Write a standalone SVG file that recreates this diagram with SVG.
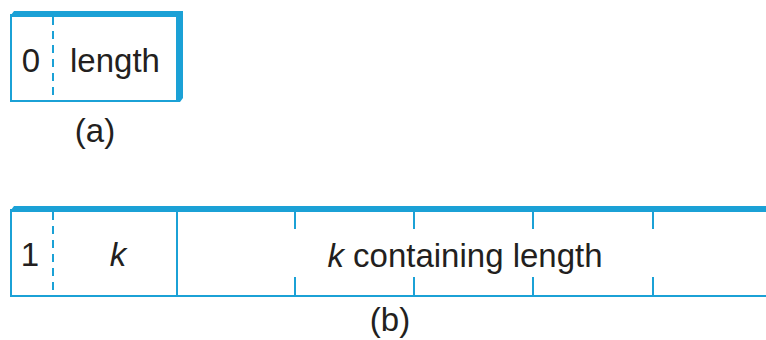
<svg xmlns="http://www.w3.org/2000/svg" width="766" height="340" viewBox="0 0 766 340">
<style>
.ln{stroke:#1ba1d6;stroke-width:2;fill:none}
.dash{stroke:#1ba1d6;stroke-width:2;stroke-dasharray:8,6;fill:none}
.bar{fill:#1ba1d6;stroke:none}
.t{font-family:"Liberation Sans",Arial,sans-serif;font-size:33px;fill:#231f20;text-anchor:middle}
.i{font-style:italic}
</style>
<rect width="766" height="340" fill="#ffffff"/>
<g id="nodeA">
<rect class="ln" x="11" y="15" width="166" height="86"/>
<polygon class="bar" points="11,17 11,15 14,11 183,11 183,17"/>
<polygon class="bar" points="177,11 183,11 183,98 180,102 177,102"/>
<line class="dash" x1="53" y1="17" x2="53" y2="101"/>
<text class="t" x="31" y="72">0</text>
<text class="t" x="115" y="72">length</text>
<text class="t" x="95" y="142">(a)</text>
</g>
<g id="nodeB">
<polyline class="ln" points="11,209 11,296 766,296"/>
<polygon class="bar" points="11,212 11,210 14,206 766,206 766,212"/>
<line class="dash" x1="53" y1="212" x2="53" y2="296"/>
<line class="ln" x1="177" y1="212" x2="177" y2="296"/>
<text class="t" x="30" y="266">1</text>
<text class="t i" x="118" y="266">k</text>
<text class="t" x="465" y="267"><tspan class="i">k</tspan> containing length</text>
<text class="t" x="390" y="331">(b)</text>
</g>
<g id="connectors">
<line class="ln" x1="295" y1="212" x2="295" y2="229"/>
<line class="ln" x1="295" y1="277" x2="295" y2="296"/>
<line class="ln" x1="414" y1="212" x2="414" y2="229"/>
<line class="ln" x1="414" y1="277" x2="414" y2="296"/>
<line class="ln" x1="533" y1="212" x2="533" y2="229"/>
<line class="ln" x1="533" y1="277" x2="533" y2="296"/>
<line class="ln" x1="653" y1="212" x2="653" y2="229"/>
<line class="ln" x1="653" y1="277" x2="653" y2="296"/>
</g>
</svg>
